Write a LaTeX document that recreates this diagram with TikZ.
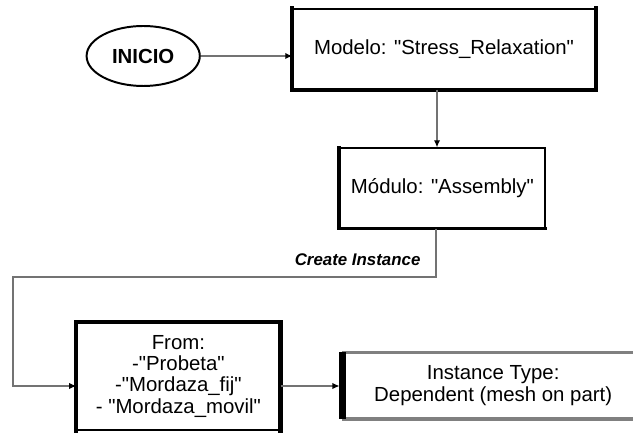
\documentclass[tikz,border=0pt]{standalone}
\usepackage{fontspec}
\setmainfont{Liberation Sans}[Ligatures=TeXOff]
\usepackage{tikz}
\usetikzlibrary{arrows.meta,shapes.geometric}

\begin{document}
\begin{tikzpicture}[
font=\fontsize{14.5pt}{15pt}\selectfont,
box/.style={draw,line width=1pt,align=center,inner sep=2pt},
start/.style={ellipse,draw,line width=1.4pt,font=\fontsize{14.5pt}{15pt}\selectfont\bfseries,
  minimum width=2.83cm,minimum height=1.5cm,inner sep=0pt},
conn/.style={draw=gray!90!black,line width=0.8pt,-{Latex[black,length=5pt,width=4.5pt]}},
thickside/.style={line width=3pt,line cap=rect},
grayside/.style={draw=gray,line width=2.5pt},
lbl/.style={font=\fontsize{12pt}{13pt}\selectfont\bfseries\itshape},
scale=1]
    % frame of the picture
    \path[use as bounding box,clip] (0,0) rectangle (15.825,10.8);

    \node[start] (ini) at (3.58,9.4) {INICIO};
    \node[box,minimum width=7.55cm,minimum height=2cm] (model) at (11.1,9.575)
        {Modelo: "Stress\_Relaxation"};
    \node[box,minimum width=5.125cm,minimum height=2cm] (modul) at (11.06,6.1)
        {Módulo: "Assembly"};
    \node[box,minimum width=5.075cm,minimum height=2.675cm] (from) at (4.46,1.39)
        {From:\\-"Probeta"\\-"Mordaza\_fij"\\- "Mordaza\_movil"};
    \node[box,minimum width=7.65cm,minimum height=1.625cm] (inst) at (12.33,1.16)
        {Instance Type:\\Dependent (mesh on part)};

    % heavier sides
    \draw[thickside] (model.north west) -- (model.south west) -- (model.south east) -- (model.north east);
    \draw[thickside,line width=2.5pt] (modul.north west) -- (modul.south west) -- (modul.south east);
    \draw[thickside] (from.south west) -- (from.north west) -- (from.north east) -- (from.south east);
    \draw[grayside] ([xshift=2pt]inst.north west) -- (inst.north east);
    \draw[grayside] ([xshift=2pt]inst.south west) -- (inst.south east);
    \draw[line width=5pt] ([xshift=2pt]inst.north west) -- ([xshift=2pt]inst.south west);

    \coordinate (loopcorner) at (0.325,3.875);

    \draw[conn] (ini.east) -- (ini.east -| model.west);
    \draw[conn] ([xshift=-0.175cm]model.south) -- ([xshift=-0.175cm]model.south |- modul.north);
    \draw[conn] ([xshift=-0.16cm]modul.south) |- (loopcorner) |- ([yshift=-0.24cm]from.west);
    \draw[conn] ([yshift=-0.24cm]from.east) -- ([yshift=-0.24cm]from.east -| inst.west);

    \node[lbl] (create) at (8.94,4.3) {Create Instance};

\end{tikzpicture}
\end{document}
